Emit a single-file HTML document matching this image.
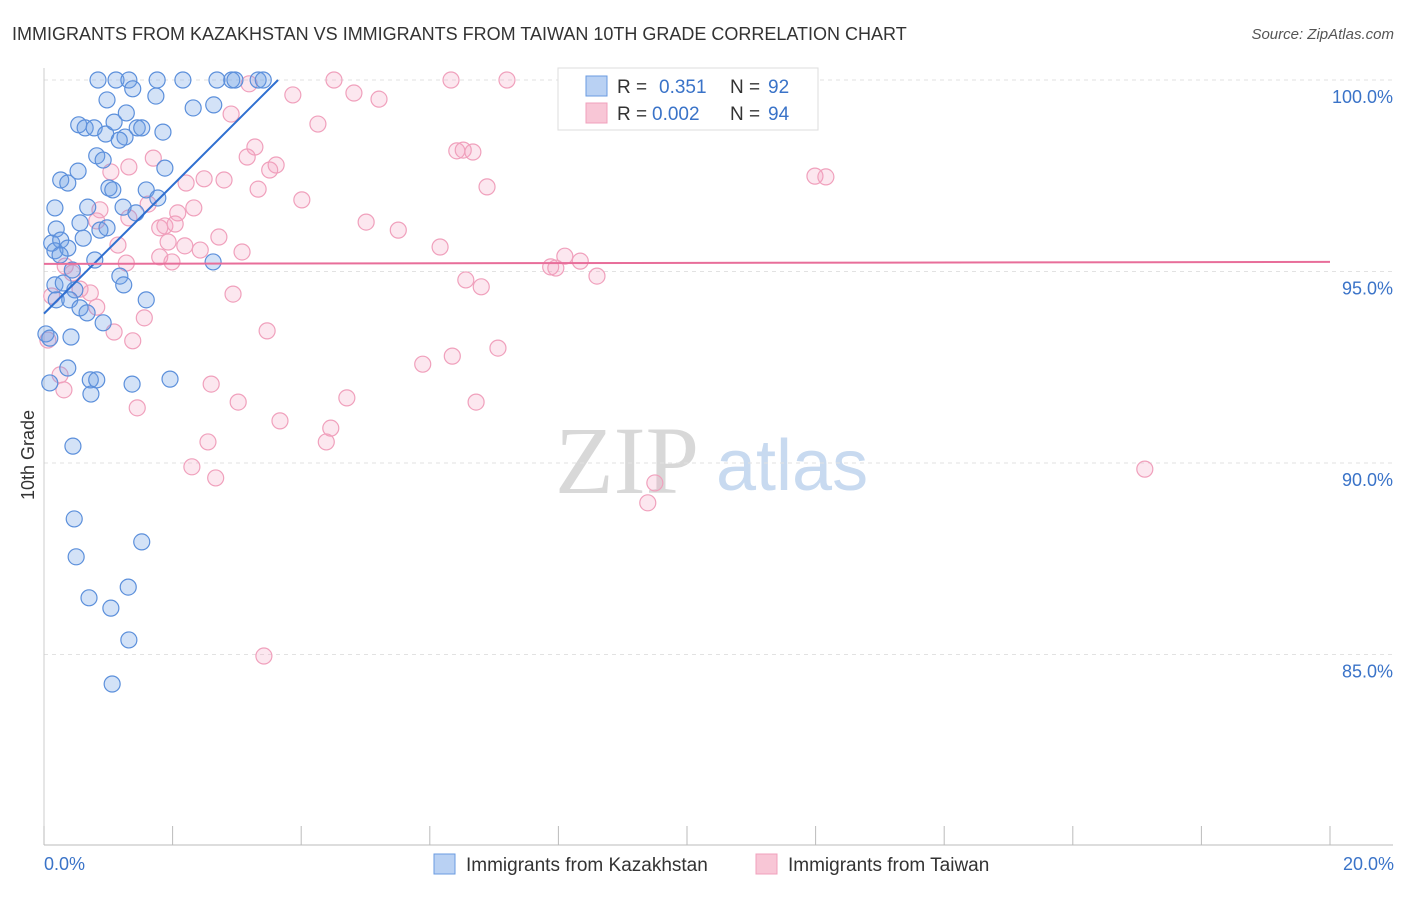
<!DOCTYPE html>
<html><head><meta charset="utf-8"><style>
body{margin:0;background:#fff;font-family:"Liberation Sans",sans-serif;}
svg text{font-family:"Liberation Sans",sans-serif;}
</style></head><body>
<svg id="chart" width="1406" height="892" viewBox="0 0 1406 892">
<text x="12" y="40" font-size="18" fill="#333">IMMIGRANTS FROM KAZAKHSTAN VS IMMIGRANTS FROM TAIWAN 10TH GRADE CORRELATION CHART</text>
<text x="1394" y="39" font-size="15" fill="#555" font-style="italic" text-anchor="end">Source: ZipAtlas.com</text>
<g>
<text x="555" y="493" font-size="96" fill="#d8d8d8" font-family="Liberation Serif" style="font-family:'Liberation Serif',serif">ZIP</text>
<text x="716" y="490" font-size="72" fill="#c8daf0">atlas</text>
</g>
<text transform="translate(34,455) rotate(-90)" font-size="18" fill="#333" text-anchor="middle">10th Grade</text>
<g id="grid"></g><g id="axes"></g><g id="lines"></g><g id="pts"></g>
<g>
<rect x="558" y="68" width="260" height="62" fill="#fff" stroke="#ddd"/>
<rect x="586" y="76" width="21" height="20" fill="#b9d1f3" stroke="#6a9be0"/>
<text x="617" y="93" font-size="19" fill="#333">R = </text><text x="659" y="93" font-size="19" fill="#3a73c8">0.351</text>
<text x="730" y="93" font-size="19" fill="#333">N = </text><text x="768" y="93" font-size="19" fill="#3a73c8">92</text>
<rect x="586" y="103" width="21" height="20" fill="#f8c6d6" stroke="#f0a0bc"/>
<text x="617" y="120" font-size="19" fill="#333">R = </text><text x="652" y="120" font-size="19" fill="#3a73c8">0.002</text>
<text x="730" y="120" font-size="19" fill="#333">N = </text><text x="768" y="120" font-size="19" fill="#3a73c8">94</text>
</g>
<g>
<rect x="434" y="854" width="21" height="20" fill="#b9d1f3" stroke="#6a9be0"/>
<text x="466" y="871" font-size="19" fill="#333">Immigrants from Kazakhstan</text></g>
<g>
<rect x="756" y="854" width="21" height="20" fill="#f8c6d6" stroke="#f0a0bc"/>
<text x="788" y="871" font-size="19" fill="#333">Immigrants from Taiwan</text></g>
</svg>
<script>
const yTicks=[100,95,90,85];
const yTickLabels=["100.0%","95.0%","90.0%","85.0%"];
const xTicks=[0,2,4,6,8,10,12,14,16,18,20];
const xLabels=["0.0%","20.0%"];
const blueX=[0.84,1.12,1.32,1.76,2.16,2.69,2.92,2.97,3.33,3.41,0.98,1.38,1.74,2.32,2.64,0.54,0.64,0.78,0.96,1.09,1.28,1.26,1.45,1.52,1.85,1.17,0.82,0.92,1.88,0.53,0.26,0.37,1.01,1.07,1.59,1.77,0.17,0.68,1.23,1.43,0.56,0.19,0.87,0.98,0.61,0.12,0.26,0.17,0.37,0.25,0.79,2.63,0.44,1.18,1.24,0.17,0.30,0.48,0.19,0.40,1.59,0.56,0.67,0.92,0.03,0.42,0.09,0.37,0.09,0.72,0.82,1.96,1.37,0.73,0.45,0.47,0.50,1.52,1.31,0.70,1.04,1.32,1.06];
const blueY=[100,100,100,100,100,100,100,100,100,100,99.48,99.77,99.58,99.27,99.35,98.83,98.75,98.75,98.59,98.90,99.14,98.51,98.75,98.75,98.64,98.43,98.02,97.91,97.70,97.62,97.39,97.31,97.18,97.13,97.13,96.92,96.66,96.68,96.68,96.53,96.27,96.11,96.08,96.14,95.87,95.74,95.82,95.54,95.61,95.43,95.30,95.25,95.04,94.88,94.65,94.65,94.70,94.52,94.26,94.26,94.26,94.05,93.92,93.66,93.37,93.29,93.26,92.48,92.09,92.17,92.17,92.19,92.06,91.80,90.44,88.54,87.55,87.94,86.76,86.48,86.21,85.38,84.23];
const pinkX=[4.51,6.33,7.20,11.76,11.77,3.19,3.87,4.82,5.21,2.91,4.26,6.42,6.52,6.67,3.28,3.16,1.70,1.32,3.61,3.51,1.04,2.21,2.49,2.80,3.33,6.89,11.99,12.16,4.01,1.62,0.87,2.33,2.08,1.32,1.80,1.88,2.04,0.82,5.01,5.51,2.72,1.93,2.19,2.43,3.08,1.15,1.80,1.99,6.16,8.10,8.34,7.88,7.96,8.60,1.28,0.33,0.44,6.56,6.80,0.56,0.72,2.94,0.12,0.82,1.56,3.47,1.09,1.38,0.06,7.06,6.35,5.89,0.25,0.31,2.60,4.71,3.02,6.72,1.45,3.67,4.46,2.55,4.39,2.30,2.67,9.50,9.39,17.12,3.42];
const pinkY=[100,100,100,100,99.95,99.90,99.61,99.66,99.50,99.11,98.85,98.15,98.17,98.12,98.25,97.99,97.96,97.73,97.78,97.65,97.60,97.31,97.42,97.39,97.15,97.21,97.49,97.47,96.87,96.76,96.61,96.66,96.53,96.40,96.14,96.19,96.24,96.32,96.29,96.08,95.90,95.77,95.67,95.56,95.51,95.69,95.38,95.25,95.64,95.40,95.27,95.12,95.09,94.88,95.22,95.14,94.96,94.78,94.60,94.54,94.44,94.41,94.36,94.07,93.79,93.45,93.42,93.19,93.21,93.00,92.79,92.58,92.30,91.91,92.06,91.70,91.59,91.59,91.44,91.10,90.91,90.55,90.55,89.90,89.61,89.48,88.96,89.84,84.96];
const blueLineX=[0,3.64];const blueLineY=[93.9,100];
const pinkLineX=[0,20];const pinkLineY=[95.2,95.25];
const X=v=>44+v*64.3, Y=v=>80+(100-v)*38.3;
const NS="http://www.w3.org/2000/svg";
function mk(t,a,p){const e=document.createElementNS(NS,t);for(const k in a)e.setAttribute(k,a[k]);p.appendChild(e);return e;}
const grid=document.getElementById('grid'),axes=document.getElementById('axes');
yTicks.forEach((t,i)=>{
 const l=mk('line',{x1:44,x2:1393,y1:Y(t),y2:Y(t),stroke:'#e2e2e2','stroke-dasharray':'4,4'},grid);
 
 
 const tx=mk('text',{x:1393,y:Y(t)+23,'font-size':18,fill:'#3a73c8','text-anchor':'end'},axes);
 tx.textContent=yTickLabels[i];
 
 
});
const ax=mk('line',{x1:44,x2:1393,y1:845,y2:845,stroke:'#bbb'},axes);


const ay=mk('line',{x1:44,x2:44,y1:68,y2:845,stroke:'#ccc'},axes);


xTicks.forEach(t=>{const l=mk('line',{x1:X(t),x2:X(t),y1:826,y2:845,stroke:'#bbb'},axes);
 
 });
[[0,'start',44],[20,'end',1394]].forEach((d,i)=>{const tx=mk('text',{x:d[2],y:870,'font-size':18,fill:'#3a73c8','text-anchor':d[1]},axes);tx.textContent=xLabels[i];
 
 });
const pts=document.getElementById('pts');
function series(xs,ys,fill,stroke,name){xs.forEach((x,i)=>{const c=mk('circle',{cx:X(x),cy:Y(ys[i]),r:8,fill:fill,stroke:stroke,'stroke-width':1.2},pts);
 
 });}
series(pinkX,pinkY,'rgba(244,160,190,0.25)','#f0a0bc','taiwan-point');
series(blueX,blueY,'rgba(110,160,230,0.3)','#5b8fdb','kazakhstan-point');
const lines=document.getElementById('lines');
const bl=mk('line',{x1:X(blueLineX[0]),y1:Y(blueLineY[0]),x2:X(blueLineX[1]),y2:Y(blueLineY[1]),stroke:'#2f6fd0','stroke-width':2},pts);


const pl=mk('line',{x1:X(pinkLineX[0]),y1:Y(pinkLineY[0]),x2:X(pinkLineX[1]),y2:Y(pinkLineY[1]),stroke:'#e86e9a','stroke-width':2},pts);


</script>
</body></html>
